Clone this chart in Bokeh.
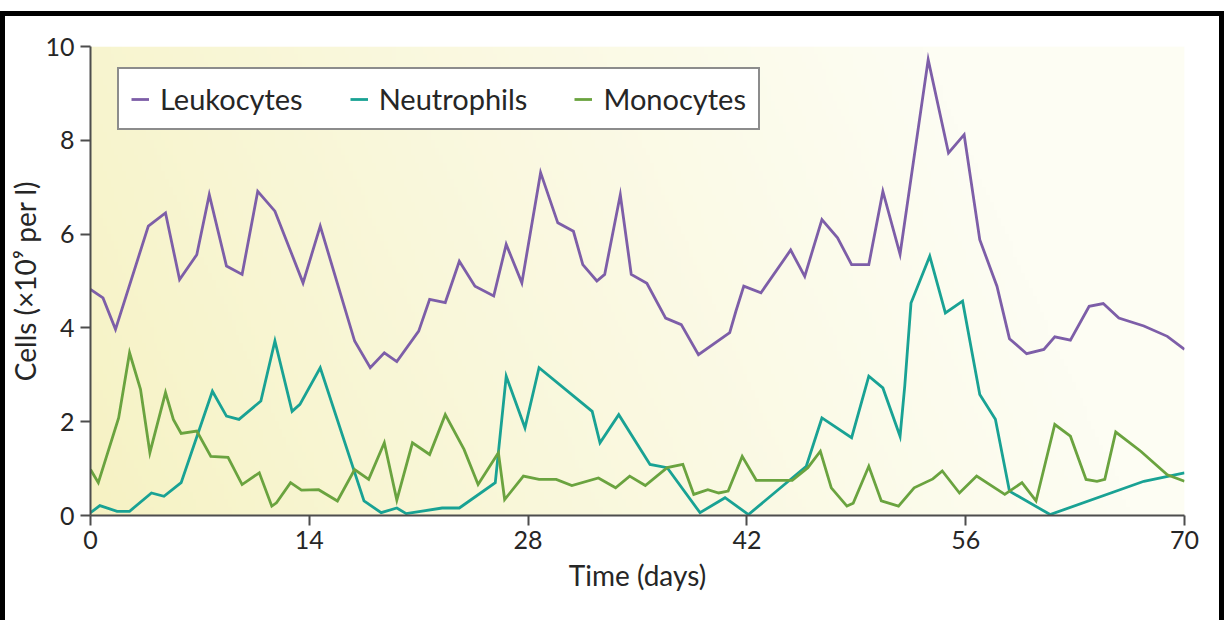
import numpy as np
from bokeh.plotting import figure
from bokeh.models import FixedTicker
from bokeh.embed import file_html
from bokeh.resources import INLINE

# ---------------- data ----------------
leuko_day = [0, 0.8, 1.6, 3.7, 4.8, 5.7, 6.8, 7.6, 8.7, 9.7, 10.7, 11.8, 13.6, 14.7,
             16.9, 17.9, 18.8, 19.6, 21.0, 21.7, 22.7, 23.6, 24.6, 25.8, 26.6, 27.6,
             28.8, 29.9, 30.9, 31.5, 32.4, 32.9, 33.9, 34.6, 35.6, 36.8, 37.8, 38.9,
             40.9, 41.3, 41.8, 42.9, 44.8, 45.7, 46.8, 47.8, 48.7, 49.8, 50.7, 51.8,
             53.6, 54.9, 55.9, 56.9, 58.0, 58.8, 59.9, 61.0, 61.7, 62.7, 63.9, 64.8,
             65.8, 67.4, 68.9, 70.0]
leuko_val = [4.82, 4.64, 3.97, 6.17, 6.45, 5.03, 5.56, 6.84, 5.32, 5.14, 6.91, 6.49, 4.96, 6.17,
             3.72, 3.15, 3.47, 3.28, 3.93, 4.61, 4.54, 5.42, 4.89, 4.68, 5.78, 4.96,
             7.31, 6.24, 6.06, 5.35, 5.00, 5.14, 6.84, 5.14, 4.95, 4.21, 4.07, 3.43,
             3.90, 4.36, 4.89, 4.75, 5.66, 5.10, 6.31, 5.92, 5.35, 5.35, 6.91, 5.57,
             9.72, 7.73, 8.12, 5.88, 4.89, 3.77, 3.45, 3.54, 3.81, 3.74, 4.46, 4.52,
             4.21, 4.04, 3.82, 3.54]

neutro_day = [0, 0.6, 1.7, 2.5, 3.9, 4.7, 5.8, 7.8, 8.7, 9.5, 10.9, 11.8, 12.9, 13.4, 14.7,
              17.5, 18.6, 19.6, 20.2, 22.5, 23.6, 25.9, 26.6, 27.8, 28.7, 32.1, 32.6, 33.8,
              35.8, 36.9, 39.0, 40.6, 42.1, 45.8, 46.8, 48.7, 49.8, 50.7, 51.8, 52.1, 52.5,
              53.7, 54.7, 55.8, 56.9, 57.9, 58.8, 61.4, 67.4, 70.0]
neutro_val = [0.06, 0.21, 0.09, 0.09, 0.48, 0.41, 0.70, 2.65, 2.12, 2.05, 2.44, 3.72, 2.22, 2.37, 3.15,
              0.31, 0.06, 0.16, 0.04, 0.16, 0.16, 0.70, 2.97, 1.87, 3.15, 2.22, 1.55, 2.15,
              1.09, 1.02, 0.06, 0.38, 0.02, 1.05, 2.08, 1.66, 2.97, 2.72, 1.69, 2.76, 4.53,
              5.53, 4.32, 4.57, 2.58, 2.05, 0.52, 0.02, 0.73, 0.91]

mono_day = [0, 0.5, 1.8, 2.5, 3.2, 3.8, 4.8, 5.3, 5.8, 6.8, 7.7, 8.8, 9.7, 10.8, 11.6, 11.9,
            12.8, 13.5, 14.6, 15.8, 16.9, 17.8, 18.8, 19.6, 20.6, 21.7, 22.7, 23.9, 24.8,
            26.1, 26.5, 27.7, 28.7, 29.8, 30.8, 32.5, 33.6, 34.5, 35.5, 36.9, 37.9, 38.6,
            39.5, 40.2, 40.8, 41.7, 42.6, 44.9, 45.9, 46.7, 47.4, 48.4, 48.8, 49.8, 50.6,
            51.7, 52.7, 53.9, 54.5, 55.6, 56.7, 58.5, 59.6, 60.5, 61.7, 62.7, 63.7, 64.4,
            64.9, 65.6, 67.2, 68.9, 70.0]
mono_val = [0.98, 0.70, 2.08, 3.47, 2.69, 1.34, 2.62, 2.05, 1.75, 1.80, 1.26, 1.24, 0.66, 0.91, 0.20, 0.27,
            0.70, 0.54, 0.55, 0.31, 0.98, 0.77, 1.55, 0.33, 1.55, 1.30, 2.15, 1.41, 0.66,
            1.34, 0.34, 0.84, 0.77, 0.77, 0.64, 0.80, 0.59, 0.84, 0.64, 1.02, 1.09, 0.45,
            0.55, 0.48, 0.52, 1.26, 0.75, 0.75, 1.02, 1.37, 0.59, 0.20, 0.26, 1.05, 0.31,
            0.20, 0.59, 0.78, 0.95, 0.48, 0.84, 0.45, 0.70, 0.31, 1.94, 1.69, 0.77, 0.73,
            0.77, 1.78, 1.37, 0.87, 0.73]

series_names = ["Leukocytes", "Neutrophils", "Monocytes"]
x_ticks = [0, 14, 28, 42, 56, 70]
y_ticks = [0, 2, 4, 6, 8, 10]

# ---------------- styling ----------------
FONT = "Lato"
colors = ["#7d5ea8", "#19a294", "#6aa33f"]
axis_col = "#4d4d4d"
text_col = "#262626"

p = figure(
    output_backend="svg", toolbar_location=None,
    frame_width=1094, frame_height=469,
    min_border_left=79, min_border_right=35, min_border_top=30, min_border_bottom=105,
    x_range=(0, 70), y_range=(0, 10),
    background_fill_color="white", border_fill_color="white",
    styles={"border-left": "5px solid black", "border-top": "5px solid black",
            "border-right": "5px solid black", "margin-top": "11px"},
)
p.outline_line_color = None
p.grid.visible = False

# soft yellow gradient behind the plot
M, N = 280, 60
xs = np.linspace(0, 1, M)[None, :]
ys = np.linspace(0, 1, N)[:, None]
t = np.clip(xs * 1.05 + ys * 0.2, 0, 1) ** 0.85
c0 = np.array([246, 242, 195])
c1 = np.array([253, 253, 243])
img = np.zeros((N, M), dtype=np.uint32)
view = img.view(dtype=np.uint8).reshape((N, M, 4))
for k in range(3):
    view[:, :, k] = (c0[k] + (c1[k] - c0[k]) * t).astype(np.uint8)
view[:, :, 3] = 255
p.image_rgba(image=[img], x=0, y=0, dw=70, dh=10, level="image")

for name, xd, yd, c in zip(series_names,
                           [leuko_day, neutro_day, mono_day],
                           [leuko_val, neutro_val, mono_val], colors):
    p.line(xd, yd, line_color=c, line_width=2.8, legend_label=name, line_join="miter")

for ax in (p.xaxis[0], p.yaxis[0]):
    ax.axis_line_color = axis_col
    ax.axis_line_width = 2
    ax.major_tick_line_color = axis_col
    ax.major_tick_line_width = 2
    ax.major_tick_out = 10
    ax.major_tick_in = 0
    ax.minor_tick_line_color = None
    ax.major_label_text_font = FONT
    ax.major_label_text_font_size = "25px"
    ax.major_label_text_color = text_col
    ax.axis_label_text_font = FONT
    ax.axis_label_text_font_size = "28px"
    ax.axis_label_text_font_style = "normal"
    ax.axis_label_text_color = text_col

p.xaxis.ticker = FixedTicker(ticks=x_ticks)
p.yaxis.ticker = FixedTicker(ticks=y_ticks)
p.xaxis.axis_label = "Time (days)"
p.yaxis.axis_label = "Cells (×10⁹ per l)"
p.xaxis.major_label_standoff = 5
p.yaxis.major_label_standoff = 6
p.xaxis.axis_label_standoff = 6
p.yaxis.axis_label_standoff = 0

lg = p.legend[0]
lg.orientation = "horizontal"
lg.location = (27, 385)
lg.border_line_color = "#1a1a1a"
lg.border_line_width = 2
lg.background_fill_color = "white"
lg.background_fill_alpha = 1
lg.label_text_font = FONT
lg.label_text_font_size = "29px"
lg.label_text_color = text_col
lg.glyph_width = 18
lg.label_standoff = 11
lg.spacing = 47
lg.padding = 12
lg.margin = 0

open("out.html", "w").write(file_html(p, INLINE))
